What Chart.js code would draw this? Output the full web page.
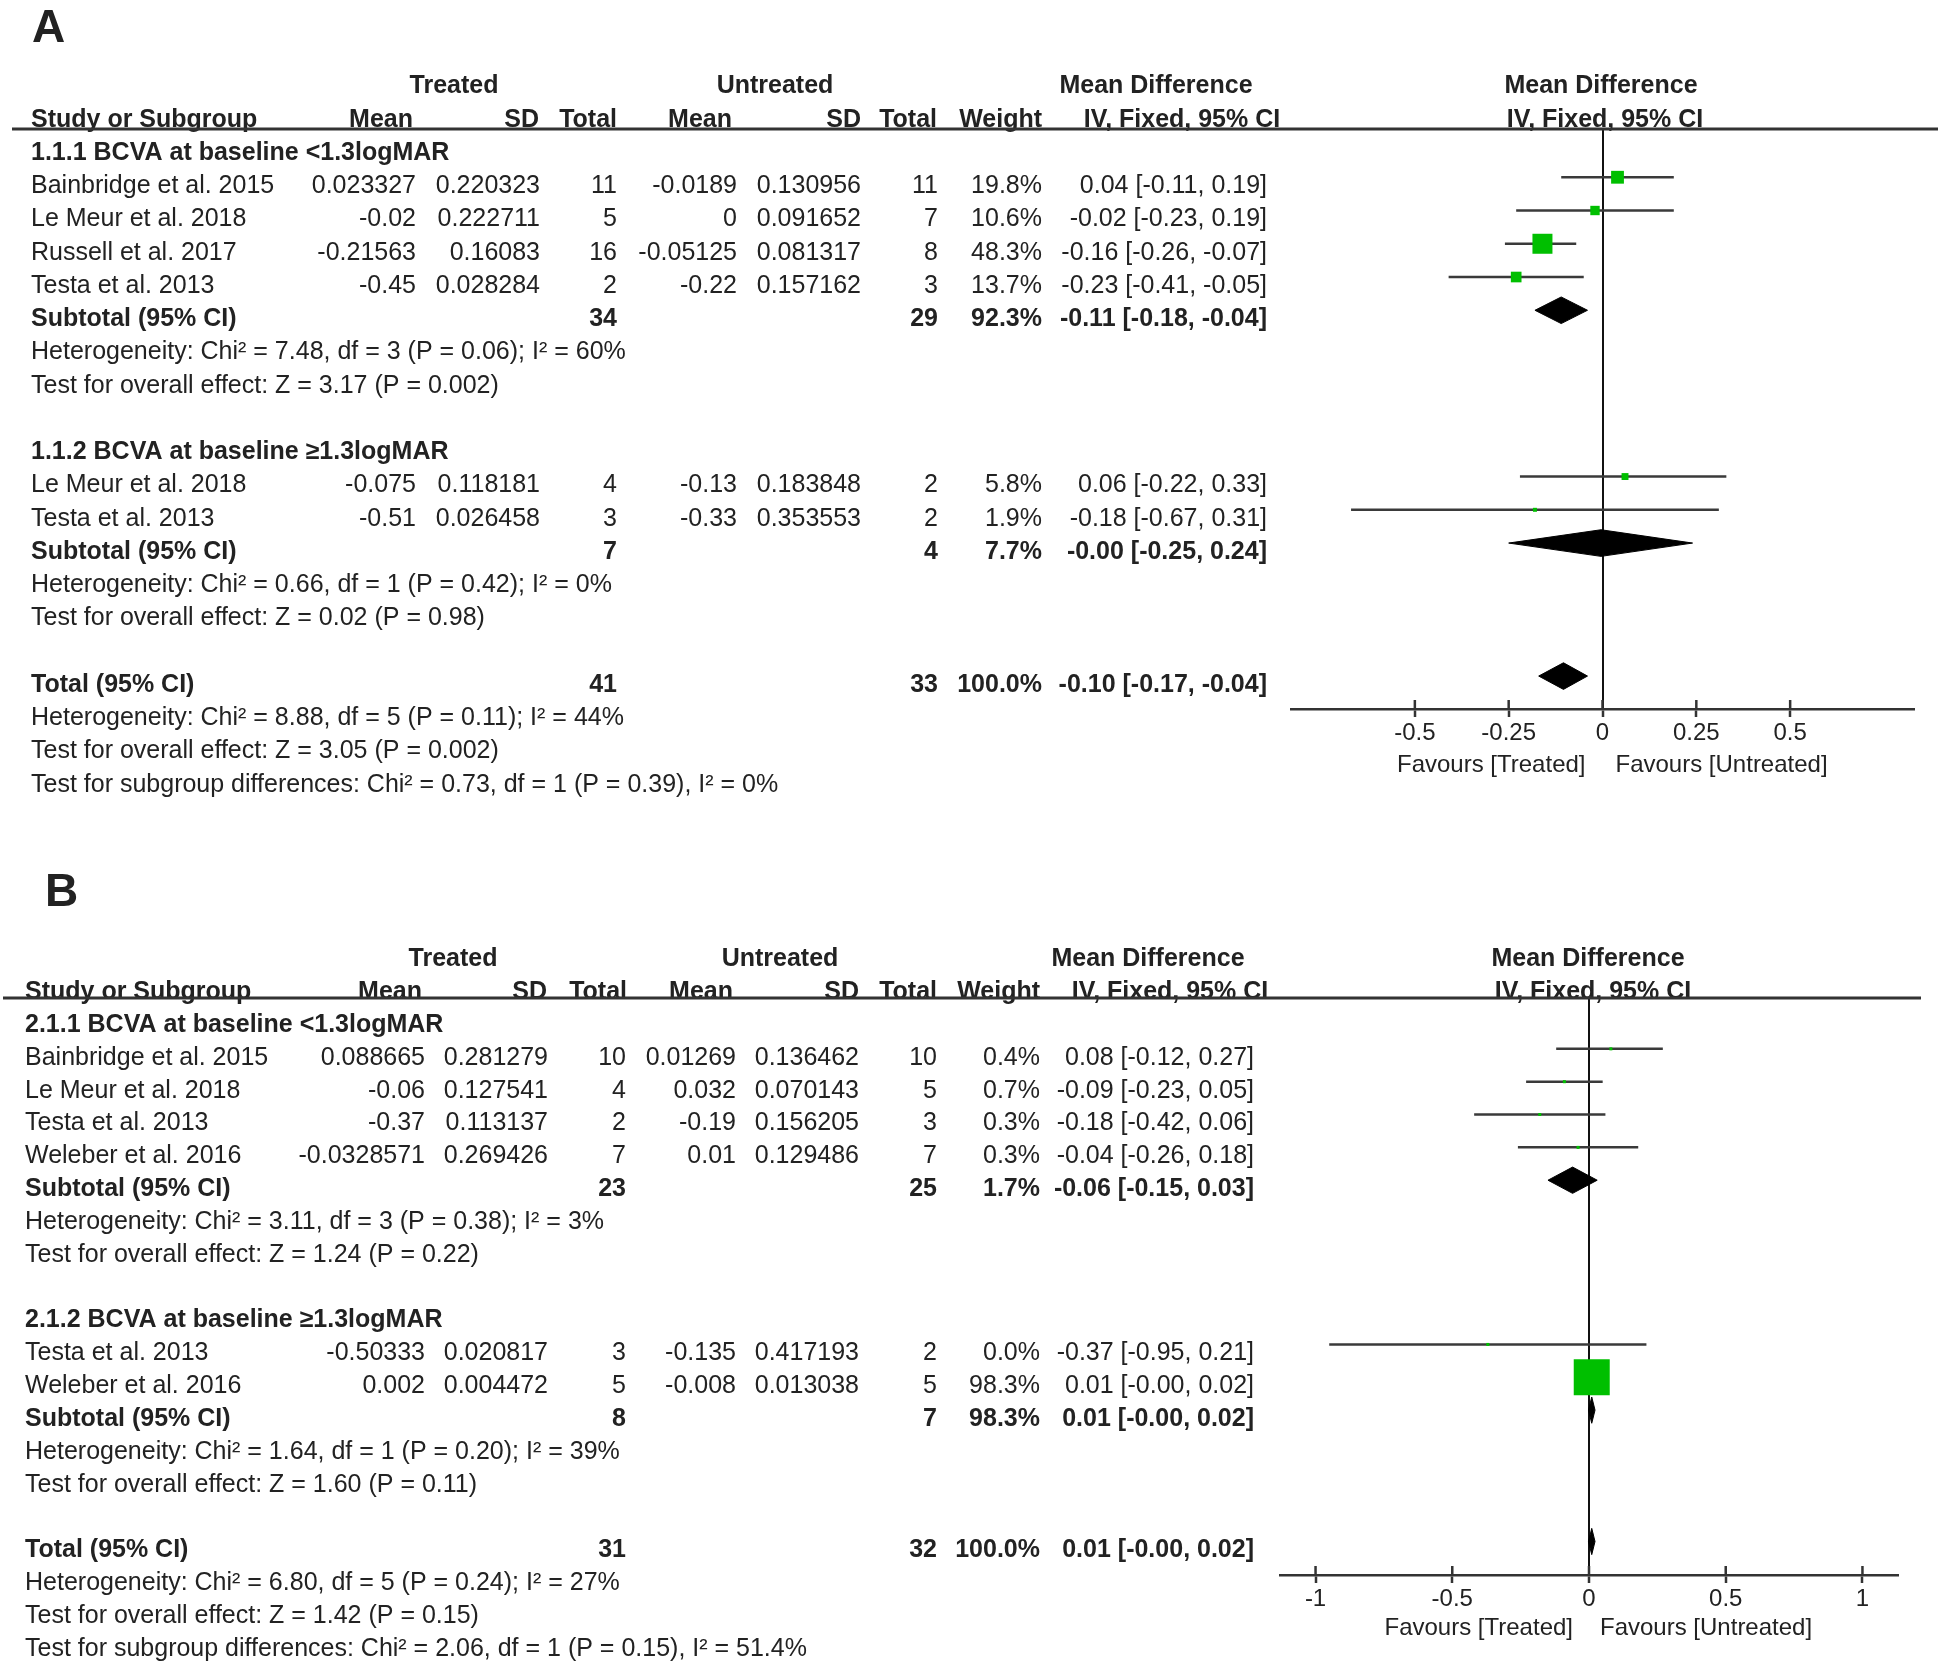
<!DOCTYPE html>
<html>
<head>
<meta charset="utf-8">
<title>Forest plots A and B</title>
<script src="https://cdn.jsdelivr.net/npm/chart.js@4.4.1/dist/chart.umd.min.js"></script>
<style>
  body { margin: 0; background: #fff; }
  canvas { position: absolute; left: 0; }
  #chartA { top: 0; }
  #chartB { top: 830px; }
</style>
</head>
<body>
<canvas id="chartA" width="1946" height="830"></canvas>
<canvas id="chartB" width="1946" height="833"></canvas>
<script>
// ---- panel A data ----
let studiesA     = ['Bainbridge et al. 2015', 'Le Meur et al. 2018', 'Russell et al. 2017', 'Testa et al. 2013', 'Le Meur et al. 2018', 'Testa et al. 2013'];
let studyRowsA   = [1, 2, 3, 4, 10, 11];
let treatMeanA   = [0.023327, -0.02, -0.21563, -0.45, -0.075, -0.51];
let treatSdA     = [0.220323, 0.222711, 0.16083, 0.028284, 0.118181, 0.026458];
let treatNA      = [11, 5, 16, 2, 4, 3];
let untreatMeanA = [-0.0189, 0, -0.05125, -0.22, -0.13, -0.33];
let untreatSdA   = [0.130956, 0.091652, 0.081317, 0.157162, 0.183848, 0.353553];
let untreatNA    = [11, 7, 8, 3, 2, 2];
let weightA      = [19.8, 10.6, 48.3, 13.7, 5.8, 1.9];
let mdA          = [0.04, -0.02, -0.16, -0.23, 0.06, -0.18];
let loA          = [-0.11, -0.23, -0.26, -0.41, -0.22, -0.67];
let hiA          = [0.19, 0.19, -0.07, -0.05, 0.33, 0.31];

let subRowsA     = [5, 12, 16];
let subLabelsA   = ['Subtotal (95% CI)', 'Subtotal (95% CI)', 'Total (95% CI)'];
let subTreatNA   = [34, 7, 41];
let subUntreatNA = [29, 4, 33];
let subWeightA   = [92.3, 7.7, 100];
let subMdA       = [-0.11, -0.004, -0.104];
let subLoA       = [-0.18, -0.25, -0.17];
let subHiA       = [-0.04, 0.24, -0.04];

let groupRowsA   = [0, 9];
let groupTitlesA = ['1.1.1 BCVA at baseline <1.3logMAR', '1.1.2 BCVA at baseline \u22651.3logMAR'];
let statRowsA    = [6, 7, 13, 14, 17, 18, 19];
let statTextA    = [
    'Heterogeneity: Chi\u00b2 = 7.48, df = 3 (P = 0.06); I\u00b2 = 60%',
    'Test for overall effect: Z = 3.17 (P = 0.002)',
    'Heterogeneity: Chi\u00b2 = 0.66, df = 1 (P = 0.42); I\u00b2 = 0%',
    'Test for overall effect: Z = 0.02 (P = 0.98)',
    'Heterogeneity: Chi\u00b2 = 8.88, df = 5 (P = 0.11); I\u00b2 = 44%',
    'Test for overall effect: Z = 3.05 (P = 0.002)',
    'Test for subgroup differences: Chi\u00b2 = 0.73, df = 1 (P = 0.39), I\u00b2 = 0%'
];
let tickValsA    = [-0.5, -0.25, 0, 0.25, 0.5];
let tickLabelsA  = ['-0.5', '-0.25', '0', '0.25', '0.5'];
let axisRangeA   = [-0.83, 0.83];

// ---- panel B data ----
let studiesB     = ['Bainbridge et al. 2015', 'Le Meur et al. 2018', 'Testa et al. 2013', 'Weleber et al. 2016', 'Testa et al. 2013', 'Weleber et al. 2016'];
let studyRowsB   = [1, 2, 3, 4, 10, 11];
let treatMeanB   = [0.088665, -0.06, -0.37, -0.0328571, -0.50333, 0.002];
let treatSdB     = [0.281279, 0.127541, 0.113137, 0.269426, 0.020817, 0.004472];
let treatNB      = [10, 4, 2, 7, 3, 5];
let untreatMeanB = [0.01269, 0.032, -0.19, 0.01, -0.135, -0.008];
let untreatSdB   = [0.136462, 0.070143, 0.156205, 0.129486, 0.417193, 0.013038];
let untreatNB    = [10, 5, 3, 7, 2, 5];
let weightB      = [0.4, 0.7, 0.3, 0.3, 0.0, 98.3];
let mdB          = [0.08, -0.09, -0.18, -0.04, -0.37, 0.01];
let loB          = [-0.12, -0.23, -0.42, -0.26, -0.95, -0.002];
let hiB          = [0.27, 0.05, 0.06, 0.18, 0.21, 0.022];

let subRowsB     = [5, 12, 16];
let subLabelsB   = ['Subtotal (95% CI)', 'Subtotal (95% CI)', 'Total (95% CI)'];
let subTreatNB   = [23, 8, 31];
let subUntreatNB = [25, 7, 32];
let subWeightB   = [1.7, 98.3, 100];
let subMdB       = [-0.06, 0.01, 0.01];
let subLoB       = [-0.15, -0.002, -0.002];
let subHiB       = [0.03, 0.022, 0.022];

let groupRowsB   = [0, 9];
let groupTitlesB = ['2.1.1 BCVA at baseline <1.3logMAR', '2.1.2 BCVA at baseline \u22651.3logMAR'];
let statRowsB    = [6, 7, 13, 14, 17, 18, 19];
let statTextB    = [
    'Heterogeneity: Chi\u00b2 = 3.11, df = 3 (P = 0.38); I\u00b2 = 3%',
    'Test for overall effect: Z = 1.24 (P = 0.22)',
    'Heterogeneity: Chi\u00b2 = 1.64, df = 1 (P = 0.20); I\u00b2 = 39%',
    'Test for overall effect: Z = 1.60 (P = 0.11)',
    'Heterogeneity: Chi\u00b2 = 6.80, df = 5 (P = 0.24); I\u00b2 = 27%',
    'Test for overall effect: Z = 1.42 (P = 0.15)',
    'Test for subgroup differences: Chi\u00b2 = 2.06, df = 1 (P = 0.15), I\u00b2 = 51.4%'
];
let tickValsB    = [-1, -0.5, 0, 0.5, 1];
let tickLabelsB  = ['-1', '-0.5', '0', '0.5', '1'];
let axisRangeB   = [-1.13, 1.13];

// ---- look and layout ----
let FONT = '"Liberation Sans", Arial, sans-serif';
let TEXT_SIZE = 25;
let TICK_SIZE = 24;
let TEXT_COLOR = '#222';
let GREEN = '#00bf00';
let TEXT_SHIFT = 9;     // text sits a little below the marks of its row
let DIAMOND_H = 0.4;    // half height of a diamond, in rows

let layoutA = {
    letter: 'A', letterX: 32, letterY: 29,
    padLeft: 1291, padRight: 32, padTop: 129, axisHeight: 121,
    yMin: -0.451, yMax: 16.99, maxSide: 20,
    lineLeft: 12, lineRight: 1938,
    cols: { study: 31, tMean: 416, tSd: 540, tN: 617, uMean: 737, uSd: 861, uN: 938, weight: 1042, ci: 1267 },
    head1: { treated: 454, untreated: 775, md: 1156, plot: 1601 },
    head2: { mean1: 413, sd1: 539, n1: 617, mean2: 732, sd2: 861, n2: 937, weight: 1042, iv: 1182, plot: 1605 },
    favL: 17, favR: 13, favDrop: 56
};
let layoutB = {
    letter: 'B', letterX: 45, letterY: 63,
    padLeft: 1280, padRight: 48, padTop: 168, axisHeight: 88,
    yMin: -0.548, yMax: 17.02, maxSide: 36,
    lineLeft: 3, lineRight: 1921,
    cols: { study: 25, tMean: 425, tSd: 548, tN: 626, uMean: 736, uSd: 859, uN: 937, weight: 1040, ci: 1254 },
    head1: { treated: 453, untreated: 780, md: 1148, plot: 1588 },
    head2: { mean1: 422, sd1: 547, n1: 627, mean2: 733, sd2: 859, n2: 937, weight: 1040, iv: 1170, plot: 1593 },
    favL: 16, favR: 11, favDrop: 53
};

// bundle the arrays of one panel
let panelA = {
    studies: studiesA, rows: studyRowsA, tMean: treatMeanA, tSd: treatSdA, tN: treatNA,
    uMean: untreatMeanA, uSd: untreatSdA, uN: untreatNA, weight: weightA, md: mdA, lo: loA, hi: hiA,
    subRows: subRowsA, subLabels: subLabelsA, subTN: subTreatNA, subUN: subUntreatNA, subWeight: subWeightA,
    subMd: subMdA, subLo: subLoA, subHi: subHiA, groupRows: groupRowsA, groupTitles: groupTitlesA,
    statRows: statRowsA, statText: statTextA, ticks: tickValsA, tickLabels: tickLabelsA, range: axisRangeA
};
let panelB = {
    studies: studiesB, rows: studyRowsB, tMean: treatMeanB, tSd: treatSdB, tN: treatNB,
    uMean: untreatMeanB, uSd: untreatSdB, uN: untreatNB, weight: weightB, md: mdB, lo: loB, hi: hiB,
    subRows: subRowsB, subLabels: subLabelsB, subTN: subTreatNB, subUN: subUntreatNB, subWeight: subWeightB,
    subMd: subMdB, subLo: subLoB, subHi: subHiB, groupRows: groupRowsB, groupTitles: groupTitlesB,
    statRows: statRowsB, statText: statTextB, ticks: tickValsB, tickLabels: tickLabelsB, range: axisRangeB
};

function ciText(m, lo, hi) {
    return m.toFixed(2) + ' [' + lo.toFixed(2) + ', ' + hi.toFixed(2) + ']';
}

function putText(ctx, txt, x, y, align, bold, size) {
    ctx.font = (bold ? 'bold ' : '') + (size || TEXT_SIZE) + 'px ' + FONT;
    ctx.textAlign = align;
    ctx.textBaseline = 'middle';
    ctx.fillText(txt, x, y);
}

// draws the table, header line, panel letter and axis captions
function tablePlugin(p, lay) {
    return {
        id: 'table' + lay.letter,
        afterDraw: function(chart) {
            let ctx = chart.ctx;
            let ys = chart.scales.y;
            let xs = chart.scales.x;
            let area = chart.chartArea;
            let c = lay.cols;
            function rowY(r) { return ys.getPixelForValue(r) + TEXT_SHIFT; }

            ctx.save();
            ctx.fillStyle = TEXT_COLOR;

            putText(ctx, lay.letter, lay.letterX, lay.letterY, 'left', true, 46);

            // column headers
            let h1 = rowY(-2), h2 = rowY(-1);
            putText(ctx, 'Treated', lay.head1.treated, h1, 'center', true);
            putText(ctx, 'Untreated', lay.head1.untreated, h1, 'center', true);
            putText(ctx, 'Mean Difference', lay.head1.md, h1, 'center', true);
            putText(ctx, 'Mean Difference', lay.head1.plot, h1, 'center', true);
            putText(ctx, 'Study or Subgroup', c.study, h2, 'left', true);
            putText(ctx, 'Mean', lay.head2.mean1, h2, 'right', true);
            putText(ctx, 'SD', lay.head2.sd1, h2, 'right', true);
            putText(ctx, 'Total', lay.head2.n1, h2, 'right', true);
            putText(ctx, 'Mean', lay.head2.mean2, h2, 'right', true);
            putText(ctx, 'SD', lay.head2.sd2, h2, 'right', true);
            putText(ctx, 'Total', lay.head2.n2, h2, 'right', true);
            putText(ctx, 'Weight', lay.head2.weight, h2, 'right', true);
            putText(ctx, 'IV, Fixed, 95% CI', lay.head2.iv, h2, 'center', true);
            putText(ctx, 'IV, Fixed, 95% CI', lay.head2.plot, h2, 'center', true);

            // subgroup titles
            for (let i = 0; i < p.groupRows.length; i++) {
                putText(ctx, p.groupTitles[i], c.study, rowY(p.groupRows[i]), 'left', true);
            }

            // one line per study
            for (let i = 0; i < p.studies.length; i++) {
                let y = rowY(p.rows[i]);
                putText(ctx, p.studies[i], c.study, y, 'left', false);
                putText(ctx, String(p.tMean[i]), c.tMean, y, 'right', false);
                putText(ctx, String(p.tSd[i]), c.tSd, y, 'right', false);
                putText(ctx, String(p.tN[i]), c.tN, y, 'right', false);
                putText(ctx, String(p.uMean[i]), c.uMean, y, 'right', false);
                putText(ctx, String(p.uSd[i]), c.uSd, y, 'right', false);
                putText(ctx, String(p.uN[i]), c.uN, y, 'right', false);
                putText(ctx, p.weight[i].toFixed(1) + '%', c.weight, y, 'right', false);
                putText(ctx, ciText(p.md[i], p.lo[i], p.hi[i]), c.ci, y, 'right', false);
            }

            // subtotal and total lines
            for (let i = 0; i < p.subRows.length; i++) {
                let y = rowY(p.subRows[i]);
                putText(ctx, p.subLabels[i], c.study, y, 'left', true);
                putText(ctx, String(p.subTN[i]), c.tN, y, 'right', true);
                putText(ctx, String(p.subUN[i]), c.uN, y, 'right', true);
                putText(ctx, p.subWeight[i].toFixed(1) + '%', c.weight, y, 'right', true);
                putText(ctx, ciText(p.subMd[i], p.subLo[i], p.subHi[i]), c.ci, y, 'right', true);
            }

            // heterogeneity and tests
            for (let i = 0; i < p.statRows.length; i++) {
                putText(ctx, p.statText[i], c.study, rowY(p.statRows[i]), 'left', false);
            }

            // thick rule under the headers
            ctx.strokeStyle = '#333';
            ctx.lineWidth = 3;
            ctx.beginPath();
            ctx.moveTo(lay.lineLeft, area.top);
            ctx.lineTo(lay.lineRight, area.top);
            ctx.stroke();

            // upper half of the tick marks
            ctx.lineWidth = 2.5;
            xs.ticks.forEach(function(t) {
                let px = xs.getPixelForValue(t.value);
                ctx.beginPath();
                ctx.moveTo(px, area.bottom - 9);
                ctx.lineTo(px, area.bottom);
                ctx.stroke();
            });

            // captions under the axis
            let zero = xs.getPixelForValue(0);
            let fy = area.bottom + lay.favDrop;
            putText(ctx, 'Favours [Treated]', zero - lay.favL, fy, 'right', false, TICK_SIZE);
            putText(ctx, 'Favours [Untreated]', zero + lay.favR, fy, 'left', false, TICK_SIZE);
            ctx.restore();
        }
    };
}

function buildChart(canvasId, p, lay) {
    let maxW = Math.max.apply(null, p.weight);
    let datasets = [];

    // green squares, area follows the weight
    datasets.push({
        type: 'scatter',
        data: p.md.map(function(m, i) { return { x: m, y: p.rows[i] }; }),
        pointStyle: 'rect',
        pointRadius: function(ctx) {
            if (ctx.dataIndex === undefined) return 3;
            let side = Math.max(3, lay.maxSide * Math.sqrt(p.weight[ctx.dataIndex] / maxW));
            return side / Math.SQRT2;
        },
        backgroundColor: GREEN,
        borderWidth: 0,
        order: 0
    });

    // confidence interval lines
    for (let i = 0; i < p.md.length; i++) {
        datasets.push({
            type: 'line',
            data: [{ x: p.lo[i], y: p.rows[i] }, { x: p.hi[i], y: p.rows[i] }],
            borderColor: '#3a3a3a',
            borderWidth: 2.5,
            pointRadius: 0,
            order: 1
        });
    }

    // pooled diamonds
    for (let i = 0; i < p.subMd.length; i++) {
        let r = p.subRows[i];
        datasets.push({
            type: 'line',
            data: [
                { x: p.subLo[i], y: r }, { x: p.subMd[i], y: r - DIAMOND_H },
                { x: p.subHi[i], y: r }, { x: p.subMd[i], y: r + DIAMOND_H },
                { x: p.subLo[i], y: r }
            ],
            borderColor: '#000',
            borderWidth: 1,
            backgroundColor: '#000',
            fill: 'shape',
            pointRadius: 0,
            tension: 0,
            order: 1
        });
    }

    return new Chart(document.getElementById(canvasId), {
        type: 'scatter',
        data: { datasets: datasets },
        options: {
            responsive: false,
            animation: false,
            devicePixelRatio: 1,
            events: [],
            layout: { padding: { left: lay.padLeft, right: lay.padRight, top: lay.padTop, bottom: 0 } },
            plugins: { legend: { display: false }, tooltip: { enabled: false } },
            scales: {
                x: {
                    type: 'linear',
                    min: p.range[0],
                    max: p.range[1],
                    afterBuildTicks: function(s) {
                        s.ticks = p.ticks.map(function(v) { return { value: v }; });
                    },
                    afterFit: function(s) { s.height = lay.axisHeight; },
                    ticks: {
                        autoSkip: false,
                        maxRotation: 0,
                        padding: 2,
                        color: TEXT_COLOR,
                        font: { family: FONT, size: TICK_SIZE },
                        callback: function(v, i) { return p.tickLabels[i]; }
                    },
                    grid: {
                        drawOnChartArea: true,
                        color: function(ctx) { return ctx.tick && ctx.tick.value === 0 ? '#111' : 'rgba(0,0,0,0)'; },
                        lineWidth: 2,
                        tickLength: 8,
                        tickColor: '#333',
                        tickWidth: 2.5
                    },
                    border: { display: true, color: '#333', width: 2.5 }
                },
                y: {
                    type: 'linear',
                    display: false,
                    reverse: true,
                    min: lay.yMin,
                    max: lay.yMax
                }
            }
        },
        plugins: [tablePlugin(p, lay)]
    });
}

buildChart('chartA', panelA, layoutA);
buildChart('chartB', panelB, layoutB);
</script>
</body>
</html>
